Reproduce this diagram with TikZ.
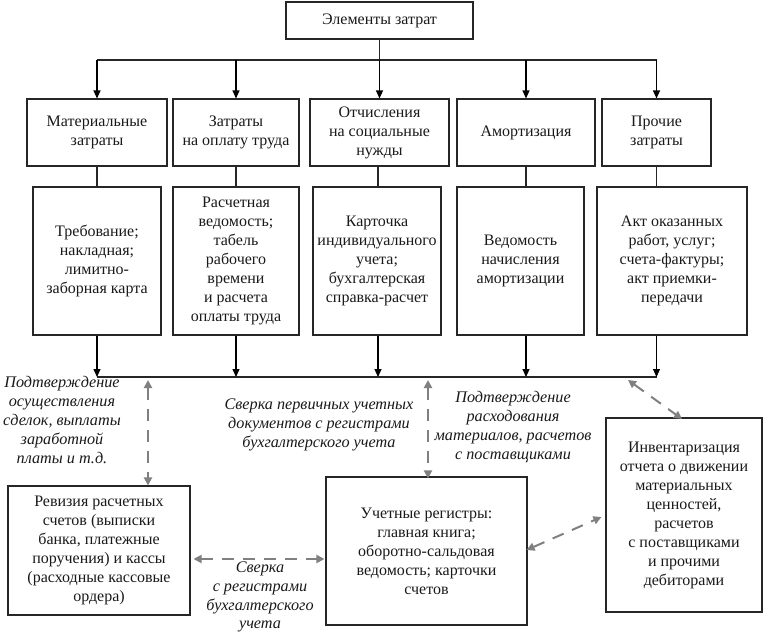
\documentclass[tikz,border=0pt]{standalone}
\usepackage{fontspec}
\setmainfont{Liberation Serif}
\usetikzlibrary{arrows.meta}
\begin{document}
\begin{tikzpicture}[x=1pt,y=-1pt,
  txt/.style={font=\fontsize{16}{19}\selectfont, text=black!90, align=center},
  box/.style={txt, draw=black!85, line width=1.1pt, rectangle, inner sep=0pt},
  lab/.style={txt, font=\fontsize{16.2}{18.8}\selectfont\itshape, inner sep=0pt},
  arr/.style={draw=black, line width=1.1pt, -{Triangle[length=8pt,width=7pt]}},
  ln/.style={draw=black!85, line width=1.1pt},
  dsh/.style={draw=black!50, line width=2pt, dash pattern=on 12pt off 9pt,
    {Triangle[length=8pt,width=8pt]}-{Triangle[length=8pt,width=8pt]}}
]
\useasboundingbox (0,0) rectangle (768,637);
% top
\node[box, minimum width=187pt, minimum height=37pt] (top) at (379.5,20.5) {Элементы затрат};
% row 1
\node[box, minimum width=140pt, minimum height=67pt] (b1) at (97,132.5) {Материальные\\затраты};
\node[box, minimum width=126pt, minimum height=67pt] (b2) at (236,132.5) {Затраты\\на оплату труда};
\node[box, minimum width=139pt, minimum height=67pt] (b3) at (379.5,132.5) {Отчисления\\на социальные\\нужды};
\node[box, minimum width=138pt, minimum height=67pt] (b4) at (526,132.5) {Амортизация};
\node[box, minimum width=109pt, minimum height=67pt] (b5) at (656.5,132.5) {Прочие\\затраты};
% row 2
\node[box, minimum width=128pt, minimum height=148pt] (c1) at (97,261) {Требование;\\накладная;\\лимитно-\\заборная карта};
\node[box, minimum width=126pt, minimum height=148pt] (c2) at (236,261) {Расчетная\\ведомость;\\табель\\рабочего\\времени\\и расчета\\оплаты труда};
\node[box, minimum width=128pt, minimum height=148pt] (c3) at (377,261) {Карточка\\индивидуального\\учета;\\бухгалтерская\\справка-расчет};
\node[box, minimum width=127pt, minimum height=148pt] (c4) at (520.5,261) {Ведомость\\начисления\\амортизации};
\node[box, minimum width=150pt, minimum height=148pt] (c5) at (672,261) {Акт оказанных\\работ, услуг;\\счета-фактуры;\\акт приемки-\\передачи};
% bottom boxes
\node[box, minimum width=182pt, minimum height=129pt] (rev) at (99,550.5) {Ревизия расчетных\\счетов (выписки\\банка, платежные\\поручения) и кассы\\(расходные кассовые\\ордера)};
\node[box, minimum width=201pt, minimum height=148pt] (reg) at (426.5,551) {Учетные регистры:\\главная книга;\\оборотно-сальдовая\\ведомость; карточки\\счетов};
\node[box, minimum width=156pt, minimum height=194pt] (inv) at (684,515) {Инвентаризация\\отчета о движении\\материальных\\ценностей,\\расчетов\\с поставщиками\\и прочими\\дебиторами};
% labels
\node[lab] (l1) at (62,420) {Подтверждение\\осуществления\\сделок, выплаты\\заработной\\платы и т.д.};
\node[lab] (l2) at (319,425) {Сверка первичных учетных\\документов с регистрами\\бухгалтерского учета};
\node[lab] (l3) at (513,427) {Подтверждение\\расходования\\материалов, расчетов\\с поставщиками};
\node[lab] (l4) at (260,597) {Сверка\\с регистрами\\бухгалтерского\\учета};
% top distribution
\coordinate (hl) at (97,60);
\coordinate (hr) at (656.5,60);
\draw[ln] (top.south) -- (top.south |- hl);
\draw[ln] (hl) -- (hr);
\foreach \b in {b1,b2,b3,b4,b5} {
  \draw[arr] (\b.north |- hl) -- (\b.north);
}
% row1 to row2
\foreach \b/\c in {b1/c1,b2/c2,b4/c4,b5/c5} {
  \draw[ln] (\b.south) -- (\b.south |- \c.north);
}
\draw[ln] ([xshift=-1.5pt]b3.south) -- ([xshift=-1.5pt]b3.south |- c3.north);
% row2 to bus
\coordinate (bl) at (97,377);
\coordinate (br) at (657,377);
\draw[ln] (bl) -- (br);
\foreach \b/\c in {b1/c1,b2/c2,b4/c4,b5/c5} {
  \draw[arr] (\b.south |- \c.south) -- (\b.south |- bl);
}
\draw[arr] ([xshift=-1.5pt]b3.south |- c3.south) -- ([xshift=-1.5pt]b3.south |- bl);
% dashed links
\coordinate (da) at (148,380);
\coordinate (db) at (428,380);
\coordinate (dc) at (628,380);
\draw[dsh] (da) -- (da |- rev.north);
\draw[dsh] (db) -- ([yshift=-2pt]db |- reg.north);
\draw[dsh] (dc) -- ([yshift=-1pt]682,418);
\draw[dsh] ([xshift=3pt]rev.east |- 0,559) -- ([xshift=-1pt]reg.west |- 0,559);
\draw[dsh] ([xshift=-1pt]reg.east |- 0,550) -- ([xshift=-4pt]inv.west |- 0,517);
\end{tikzpicture}
\end{document}
